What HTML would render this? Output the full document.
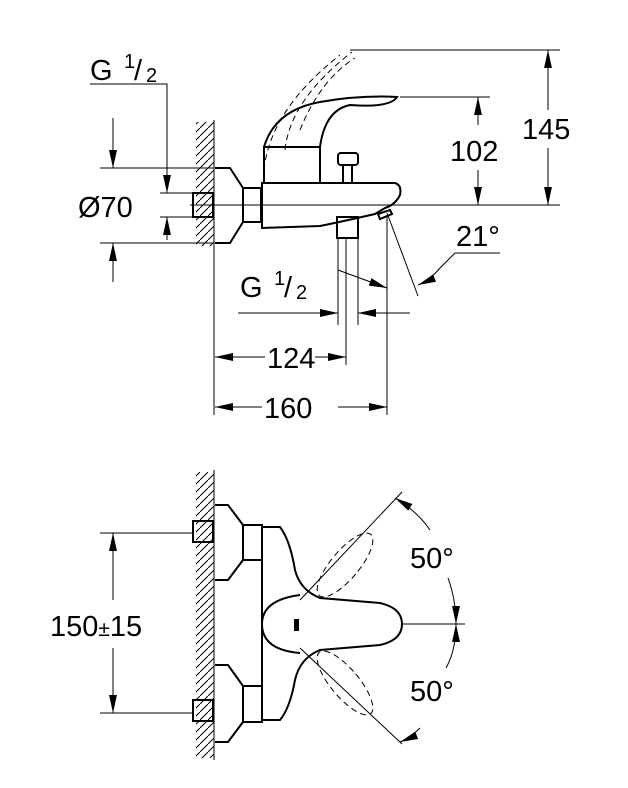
<!DOCTYPE html>
<html><head><style>body{margin:0;background:#fff}svg{display:block}text{font-family:"Liberation Sans",sans-serif;fill:#000}</style></head>
<body>
<svg width="628" height="788" viewBox="0 0 628 788" xmlns="http://www.w3.org/2000/svg">
<defs>
<marker id="a" viewBox="0 0 10 10" refX="10" refY="5" markerWidth="18" markerHeight="18" markerUnits="userSpaceOnUse" orient="auto-start-reverse"><path d="M0,2.8 L10,5 L0,7.2z" fill="#000"/></marker>
<pattern id="h" width="8" height="8" patternUnits="userSpaceOnUse"><path d="M0,8 L8,0" stroke="#000" stroke-width="1"/></pattern>
</defs>
<g fill="none" stroke="#000" stroke-width="1">
<rect x="196" y="122" width="18" height="124" fill="url(#h)" stroke="none"/>
<line x1="214" y1="120" x2="214" y2="415"/>
<line x1="190" y1="205" x2="560" y2="205"/>
<g stroke-width="2">
<path d="M215,168 L230,168 L243,188 L243,222 L230,243 L215,243"/>
<rect x="243" y="188" width="18" height="34"/>
<rect x="193" y="193" width="20" height="24"/>
<path d="M262,183 L395,183 Q402,185 400,195 Q395,205 385,208 L375,214 Q340,222 320,226 L262,228 Z"/>
<path d="M264,183 L264,147 L320,147 L320,183"/>
<path d="M264,147 Q275,110 320,102 Q360,95 397,97 Q390,108 350,105 Q325,110 320,147"/>
<rect x="337" y="217" width="21" height="21"/>
<path d="M343,183 L343,165 L352,165 L352,183"/>
<rect x="338" y="153" width="20" height="12" rx="3"/>
<path d="M378,214 L390,210 L392,214 L380,219 Z"/>
</g>
<path d="M264,170 Q270,110 340,55" stroke-dasharray="6,4"/>
<path d="M285,150 Q290,100 352,52" stroke-dasharray="6,4"/>
<path d="M300,130 Q320,80 355,58" stroke-dasharray="6,4"/>
<line x1="338" y1="238" x2="338" y2="325"/><line x1="346" y1="238" x2="346" y2="365"/><line x1="358" y1="238" x2="358" y2="325"/>
<line x1="387" y1="215" x2="387" y2="415"/>
<line x1="387" y1="213" x2="418" y2="296"/>
<polyline points="90,84 167,84 167,193" marker-end="url(#a)"/>
<line x1="167" y1="240" x2="167" y2="217" marker-end="url(#a)"/>
<line x1="160" y1="193" x2="192" y2="193"/><line x1="160" y1="217" x2="192" y2="217"/>
<line x1="100" y1="168" x2="214" y2="168"/><line x1="100" y1="243" x2="214" y2="243"/>
<line x1="113" y1="118" x2="113" y2="168" marker-end="url(#a)"/>
<line x1="113" y1="282" x2="113" y2="243" marker-end="url(#a)"/>
<line x1="350" y1="50" x2="560" y2="50"/>
<line x1="548" y1="110" x2="548" y2="50" marker-end="url(#a)"/>
<line x1="548" y1="148" x2="548" y2="205" marker-end="url(#a)"/>
<line x1="400" y1="97" x2="490" y2="97"/>
<line x1="478" y1="125" x2="478" y2="97" marker-end="url(#a)"/>
<line x1="478" y1="170" x2="478" y2="205" marker-end="url(#a)"/>
<polyline points="500,253 455,253 440,268"/>
<path d="M440,268 Q430,280 418,285" marker-end="url(#a)"/>
<path d="M338,270 Q365,280 387,288" marker-end="url(#a)"/>
<line x1="238" y1="313" x2="338" y2="313" marker-end="url(#a)"/>
<line x1="410" y1="313" x2="358" y2="313" marker-end="url(#a)"/>
<line x1="265" y1="357" x2="215" y2="357" marker-end="url(#a)"/>
<line x1="315" y1="357" x2="346" y2="357" marker-end="url(#a)"/>
<line x1="262" y1="407" x2="215" y2="407" marker-end="url(#a)"/>
<line x1="338" y1="407" x2="387" y2="407" marker-end="url(#a)"/>
<rect x="196" y="472" width="18" height="286" fill="url(#h)" stroke="none"/>
<line x1="214" y1="470" x2="214" y2="760"/>
<g stroke-width="2">
<path d="M215,505 L228,505 L243,525 L243,560 L228,580 L215,580"/>
<rect x="243" y="525" width="19" height="35"/>
<rect x="193" y="521" width="20" height="21"/>
<path d="M215,665 L228,665 L243,686 L243,722 L228,742 L215,742"/>
<rect x="243" y="686" width="19" height="36"/>
<rect x="193" y="700" width="20" height="21"/>
<path d="M262,527 L280,527 Q290,540 295,570 Q300,590 320,598 L380,603 Q402,608 402,624 Q402,640 380,645 L320,650 Q300,658 295,680 Q290,708 280,720 L262,720 Z"/>
<path d="M300,595 Q262,600 262,624 Q262,650 300,653"/>
<path d="M295,620 L298,620 L298,630 L295,630 Z" fill="#000"/>
</g>
<ellipse cx="345" cy="565" rx="14" ry="40" transform="rotate(40 345 565)" stroke-dasharray="6,4"/>
<ellipse cx="345" cy="683" rx="14" ry="40" transform="rotate(-40 345 683)" stroke-dasharray="6,4"/>
<line x1="300" y1="600" x2="402" y2="492"/>
<line x1="300" y1="648" x2="402" y2="744"/>
<line x1="402" y1="624" x2="465" y2="624"/>
<path d="M395,498 Q418,512 430,530" marker-start="url(#a)"/>
<path d="M448,578 Q456,600 456,624" marker-end="url(#a)"/>
<path d="M456,624 Q456,650 446,668" marker-start="url(#a)"/>
<path d="M420,728 Q410,738 400,742" marker-end="url(#a)"/>
<line x1="100" y1="533" x2="192" y2="533"/><line x1="100" y1="713" x2="192" y2="713"/>
<line x1="113" y1="600" x2="113" y2="533" marker-end="url(#a)"/>
<line x1="113" y1="648" x2="113" y2="713" marker-end="url(#a)"/>
</g>
<g font-size="29">
<text x="90" y="80">G</text><text x="124" y="68" font-size="20">1</text><text x="134" y="80">/</text><text x="146" y="82" font-size="20">2</text>
<text x="78" y="217">Ø70</text>
<text x="522" y="139">145</text>
<text x="450" y="161">102</text>
<text x="456" y="246">21°</text>
<text x="240" y="297">G</text><text x="274" y="285" font-size="20">1</text><text x="284" y="297">/</text><text x="296" y="299" font-size="20">2</text>
<text x="267" y="368">124</text>
<text x="264" y="418">160</text>
<text x="410" y="568">50°</text>
<text x="410" y="701">50°</text>
<text x="50" y="636">150<tspan font-size="21">±</tspan>15</text>
</g>
</svg>
</body></html>
